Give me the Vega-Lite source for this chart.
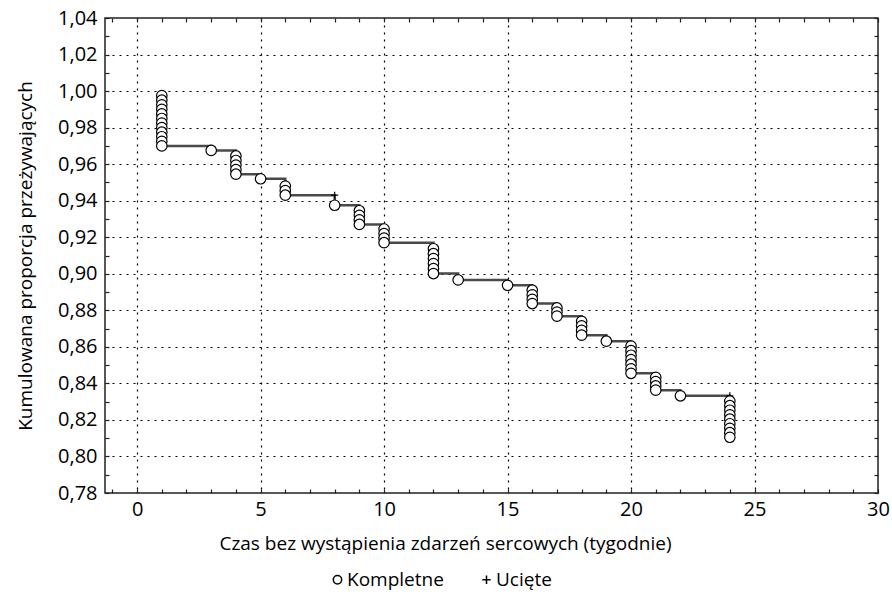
{
  "$schema": "https://vega.github.io/schema/vega-lite/v6.json",
  "width": 773,
  "height": 475,
  "autosize": {"type": "none"},
  "padding": {"left": 105, "top": 18, "right": 14, "bottom": 102},
  "background": "white",
  "config": {
    "font": "'Open Sans', Roboto, sans-serif",
    "view": {"stroke": "#222", "strokeWidth": 1.5},
    "axis": {"labelColor": "black", "titleColor": "black", "labelFontSize": 20, "titleFontSize": 19, "titleFontWeight": "normal", "tickColor": "#222", "tickWidth": 1.2}
  },
  "datasets": {
    "steps": [
      {"t": 1, "s": 0.9975}, {"t": 1, "s": 0.970}, {"t": 3, "s": 0.9675}, {"t": 4, "s": 0.9545},
      {"t": 5, "s": 0.952}, {"t": 6, "s": 0.943}, {"t": 8, "s": 0.9375}, {"t": 9, "s": 0.927},
      {"t": 10, "s": 0.917}, {"t": 12, "s": 0.9001}, {"t": 13, "s": 0.8966}, {"t": 15, "s": 0.8937},
      {"t": 16, "s": 0.8837}, {"t": 17, "s": 0.8768}, {"t": 18, "s": 0.8664}, {"t": 19, "s": 0.8631},
      {"t": 20, "s": 0.8455}, {"t": 21, "s": 0.8363}, {"t": 22, "s": 0.8332}, {"t": 24, "s": 0.8105}
    ],
    "events": [
      {"t": 1, "s": 0.9975, "type": "Kompletne"}, {"t": 1, "s": 0.995, "type": "Kompletne"},
      {"t": 1, "s": 0.9925, "type": "Kompletne"}, {"t": 1, "s": 0.990, "type": "Kompletne"},
      {"t": 1, "s": 0.9875, "type": "Kompletne"}, {"t": 1, "s": 0.985, "type": "Kompletne"},
      {"t": 1, "s": 0.9825, "type": "Kompletne"}, {"t": 1, "s": 0.980, "type": "Kompletne"},
      {"t": 1, "s": 0.9775, "type": "Kompletne"}, {"t": 1, "s": 0.975, "type": "Kompletne"},
      {"t": 1, "s": 0.9725, "type": "Kompletne"}, {"t": 1, "s": 0.970, "type": "Kompletne"},
      {"t": 3, "s": 0.9675, "type": "Kompletne"},
      {"t": 4, "s": 0.9645, "type": "Kompletne"}, {"t": 4, "s": 0.962, "type": "Kompletne"},
      {"t": 4, "s": 0.9595, "type": "Kompletne"}, {"t": 4, "s": 0.957, "type": "Kompletne"},
      {"t": 4, "s": 0.9545, "type": "Kompletne"},
      {"t": 5, "s": 0.952, "type": "Kompletne"},
      {"t": 6, "s": 0.948, "type": "Kompletne"}, {"t": 6, "s": 0.9455, "type": "Kompletne"},
      {"t": 6, "s": 0.943, "type": "Kompletne"},
      {"t": 8, "s": 0.943, "type": "Ucięte"},
      {"t": 8, "s": 0.9375, "type": "Kompletne"},
      {"t": 9, "s": 0.9345, "type": "Kompletne"}, {"t": 9, "s": 0.932, "type": "Kompletne"},
      {"t": 9, "s": 0.9295, "type": "Kompletne"}, {"t": 9, "s": 0.927, "type": "Kompletne"},
      {"t": 10, "s": 0.9245, "type": "Kompletne"}, {"t": 10, "s": 0.922, "type": "Kompletne"},
      {"t": 10, "s": 0.9195, "type": "Kompletne"}, {"t": 10, "s": 0.917, "type": "Kompletne"},
      {"t": 12, "s": 0.9137, "type": "Kompletne"}, {"t": 12, "s": 0.911, "type": "Kompletne"},
      {"t": 12, "s": 0.9083, "type": "Kompletne"}, {"t": 12, "s": 0.9056, "type": "Kompletne"},
      {"t": 12, "s": 0.9028, "type": "Kompletne"}, {"t": 12, "s": 0.9001, "type": "Kompletne"},
      {"t": 13, "s": 0.8966, "type": "Kompletne"},
      {"t": 15, "s": 0.8937, "type": "Kompletne"},
      {"t": 16, "s": 0.891, "type": "Kompletne"}, {"t": 16, "s": 0.8885, "type": "Kompletne"},
      {"t": 16, "s": 0.886, "type": "Kompletne"}, {"t": 16, "s": 0.8837, "type": "Kompletne"},
      {"t": 17, "s": 0.8813, "type": "Kompletne"}, {"t": 17, "s": 0.879, "type": "Kompletne"},
      {"t": 17, "s": 0.8768, "type": "Kompletne"},
      {"t": 18, "s": 0.874, "type": "Kompletne"}, {"t": 18, "s": 0.8715, "type": "Kompletne"},
      {"t": 18, "s": 0.869, "type": "Kompletne"}, {"t": 18, "s": 0.8664, "type": "Kompletne"},
      {"t": 19, "s": 0.8631, "type": "Kompletne"},
      {"t": 20, "s": 0.8604, "type": "Kompletne"}, {"t": 20, "s": 0.8579, "type": "Kompletne"},
      {"t": 20, "s": 0.8554, "type": "Kompletne"}, {"t": 20, "s": 0.853, "type": "Kompletne"},
      {"t": 20, "s": 0.8505, "type": "Kompletne"}, {"t": 20, "s": 0.848, "type": "Kompletne"},
      {"t": 20, "s": 0.8455, "type": "Kompletne"},
      {"t": 21, "s": 0.8433, "type": "Kompletne"}, {"t": 21, "s": 0.841, "type": "Kompletne"},
      {"t": 21, "s": 0.8386, "type": "Kompletne"}, {"t": 21, "s": 0.8363, "type": "Kompletne"},
      {"t": 22, "s": 0.8332, "type": "Kompletne"},
      {"t": 24, "s": 0.8332, "type": "Ucięte"},
      {"t": 24, "s": 0.8303, "type": "Kompletne"}, {"t": 24, "s": 0.8278, "type": "Kompletne"},
      {"t": 24, "s": 0.8253, "type": "Kompletne"}, {"t": 24, "s": 0.8228, "type": "Kompletne"},
      {"t": 24, "s": 0.8204, "type": "Kompletne"}, {"t": 24, "s": 0.8179, "type": "Kompletne"},
      {"t": 24, "s": 0.8154, "type": "Kompletne"}, {"t": 24, "s": 0.813, "type": "Kompletne"},
      {"t": 24, "s": 0.8105, "type": "Kompletne"}
    ]
  },
  "layer": [
    {
      "data": {"name": "steps"},
      "mark": {"type": "line", "interpolate": "step-after", "color": "#4a4a4a", "strokeWidth": 2.5},
      "encoding": {
        "x": {
          "field": "t", "type": "quantitative",
          "scale": {"domain": [-1.3, 30], "nice": false, "zero": false},
          "axis": {
            "orient": "bottom",
            "title": "Czas bez wystąpienia zdarzeń sercowych (tygodnie)",
            "values": [-1,0,1,2,3,4,5,6,7,8,9,10,11,12,13,14,15,16,17,18,19,20,21,22,23,24,25,26,27,28,29,30],
            "labelExpr": "datum.value % 5 === 0 ? datum.label : ''",
            "tickSize": -4,
            "labelPadding": 10,
            "labelFlush": false,
            "domain": false,
            "grid": true,
            "gridColor": "black",
            "gridDash": [2, 5],
            "gridWidth": 1.2,
            "gridOpacity": {"condition": {"test": "datum.value % 5 === 0 && datum.value > -1 && datum.value < 30", "value": 1}, "value": 0},
            "titleX": 340,
            "titleAlign": "center",
            "titlePadding": 15
          }
        },
        "y": {
          "field": "s", "type": "quantitative",
          "scale": {"domain": [0.78, 1.04], "nice": false, "zero": false},
          "axis": {
            "orient": "left",
            "title": "Kumulowana proporcja przeżywających",
            "values": [0.78,0.79,0.80,0.81,0.82,0.83,0.84,0.85,0.86,0.87,0.88,0.89,0.90,0.91,0.92,0.93,0.94,0.95,0.96,0.97,0.98,0.99,1.00,1.01,1.02,1.03,1.04],
            "labelExpr": "round(datum.value*100) % 2 === 0 ? replace(format(datum.value, '.2f'), '.', ',') : ''",
            "tickSize": -4,
            "labelPadding": 12,
            "labelFlush": false,
            "domain": false,
            "grid": true,
            "gridColor": "black",
            "gridDash": [2, 5],
            "gridWidth": 1.2,
            "gridOpacity": {"condition": {"test": "round(datum.value*100) % 2 === 0 && datum.value > 0.785 && datum.value < 1.035", "value": 1}, "value": 0},
            "titlePadding": 22
          }
        }
      }
    },
    {
      "data": {"name": "events"},
      "mark": {"type": "point", "filled": true, "fill": "white", "stroke": "black", "strokeWidth": 1.2, "opacity": 1},
      "encoding": {
        "x": {
          "field": "t", "type": "quantitative",
          "axis": {"orient": "top", "title": null, "labels": false, "grid": false, "domain": false,
            "values": [-1,0,1,2,3,4,5,6,7,8,9,10,11,12,13,14,15,16,17,18,19,20,21,22,23,24,25,26,27,28,29,30],
            "tickSize": -4}
        },
        "y": {
          "field": "s", "type": "quantitative",
          "axis": {"orient": "right", "title": null, "labels": false, "grid": false, "domain": false,
            "values": [0.78,0.79,0.80,0.81,0.82,0.83,0.84,0.85,0.86,0.87,0.88,0.89,0.90,0.91,0.92,0.93,0.94,0.95,0.96,0.97,0.98,0.99,1.00,1.01,1.02,1.03,1.04],
            "tickSize": -4}
        },
        "shape": {
          "field": "type", "type": "nominal",
          "scale": {"domain": ["Kompletne", "Ucięte"], "range": ["circle", "M-1,0H1M0,-1V1"]},
          "legend": {
            "title": null,
            "orient": "none",
            "direction": "horizontal",
            "legendX": 223,
            "legendY": 552,
            "labelFontSize": 19,
            "labelColor": "black",
            "labelOffset": 0,
            "columnPadding": 33,
            "symbolSize": 70,
            "encode": {
              "symbols": {
                "update": {
                  "fill": {"value": "white"},
                  "stroke": {"value": "#333"},
                  "strokeWidth": {"value": 1},
                  "opacity": {"value": 1}
                }
              }
            }
          }
        },
        "size": {"condition": {"test": "datum.type === 'Ucięte'", "value": 50}, "value": 110}
      }
    }
  ],
  "resolve": {"axis": {"x": "independent", "y": "independent"}}
}
